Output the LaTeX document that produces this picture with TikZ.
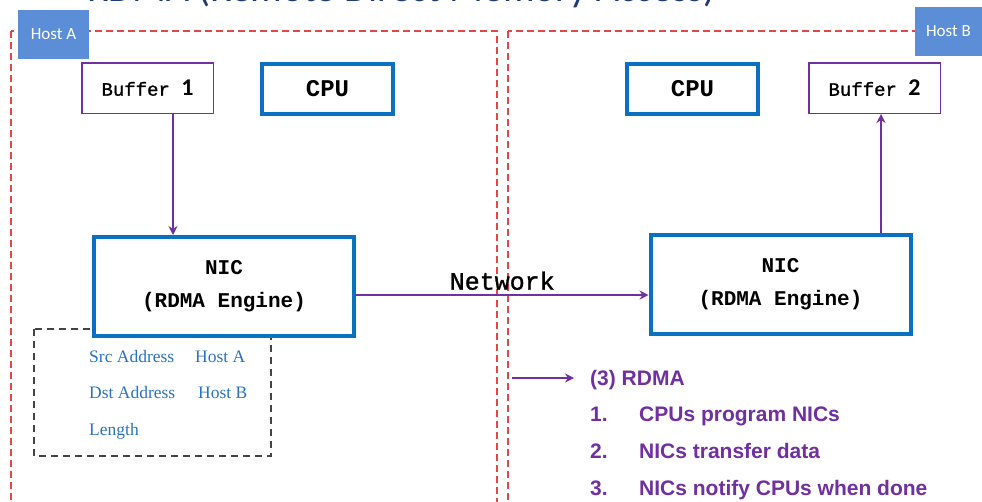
\documentclass[tikz,border=0pt]{standalone}
\usepackage{fontspec}
\setmainfont{Liberation Serif}
\newfontfamily\monof{Liberation Mono}
\newfontfamily\monofb{Liberation Mono}[FakeBold=1.2]
\newfontfamily\calib{Carlito}
\newfontfamily\arialf{Liberation Sans}
\usetikzlibrary{arrows.meta}
\definecolor{hostred}{HTML}{E04848}
\definecolor{labelblue}{HTML}{5B8ED6}
\definecolor{boxblue}{HTML}{0A70C0}
\definecolor{vio}{HTML}{7030A0}
\definecolor{fieldblue}{HTML}{2A72C4}
\definecolor{navy}{HTML}{1F3B73}
\definecolor{dashgray}{HTML}{444444}
\tikzset{
  hostframe/.style={draw=hostred, line width=1.3pt, dash pattern=on 7pt off 4pt},
  hostlabel/.style={fill=labelblue, text=white, font=\calib\fontsize{17}{19}\selectfont,
    minimum width=#1, minimum height=49pt, inner sep=0pt},
  bufbox/.style={draw=vio, line width=1.5pt, fill=white, inner sep=0pt,
    minimum width=131.5pt, minimum height=50.5pt, font=\monofb\fontsize{19}{22}\selectfont},
  cpubox/.style={draw=boxblue, line width=4pt, fill=white, inner sep=0pt,
    minimum width=131pt, minimum height=50pt, font=\monof\bfseries\fontsize{24}{28}\selectfont},
  nicbox/.style={draw=boxblue, line width=4pt, fill=white, inner sep=0pt,
    minimum width=260pt, minimum height=99pt, align=center,
    font=\monof\bfseries\fontsize{21}{33}\selectfont},
  flow/.style={draw=vio, line width=1.5pt, -{Stealth[length=9pt,width=9pt,inset=3pt]}},
  field/.style={text=fieldblue, font=\fontsize{17.5}{20}\selectfont, anchor=base west, inner sep=0pt},
  listtext/.style={text=vio, font=\arialf\bfseries\fontsize{21}{24}\selectfont, anchor=base west, inner sep=0pt}
}
\begin{document}
\begin{tikzpicture}[x=1pt,y=-1pt]
\clip (0,0) rectangle (982,501);
\fill[white] (0,0) rectangle (982,501);

% heading, running off the top edge
\node[text=navy, font=\calib\fontsize{39.5}{42}\selectfont, anchor=base, inner sep=0pt]
  (title) at (401,1.5) {RDMA (Remote Direct Memory Access)};

% host frames
\draw[hostframe] (11,31) rectangle (497,520);
\draw[hostframe] (508,31) rectangle (1000,520);
\node[hostlabel=71pt] (hostA) at (53.5,34) {Host A};
\node[hostlabel=67pt] (hostB) at (948.5,31.5) {Host B};

% work request descriptor behind the NIC
\draw[draw=dashgray, line width=1.5pt, dash pattern=on 7pt off 5pt] (34,329) rectangle (271,456);
\node[field] (src) at (89,362) {Src Address};
\node[field] (srcv) at (195,362) {Host A};
\node[field] (dst) at (89,398) {Dst Address};
\node[field] (dstv) at (198,398) {Host B};
\node[field] (len) at (89,435) {Length};

% host A
\node[bufbox] (bufA) at (147.5,88) {Buffer {\calib\bfseries\fontsize{24}{26}\selectfont 1}};
\node[cpubox] (cpuA) at (327.5,89) {CPU};
\node[nicbox] (nicA) at (224,286.5) {NIC\\(RDMA Engine)};

% host B
\node[cpubox] (cpuB) at (692.5,88.5) {CPU};
\node[bufbox] (bufB) at (874.5,88) {Buffer {\calib\bfseries\fontsize{24}{26}\selectfont 2}};
\node[nicbox] (nicB) at (780.5,284) {NIC\\(RDMA Engine)};

% data path
\draw[flow] ([xshift=25.5pt]bufA.south) -- ([xshift=25.5pt]bufA.south |- nicA.north);
\draw[flow] ([yshift=-8.5pt]nicA.east) -- ([yshift=-8.5pt]nicA.east -| nicB.west)
  node[midway, above=1pt, text=black, font=\monofb\fontsize{25}{27}\selectfont] (net) {Network};
\draw[flow] ([xshift=100.5pt]nicB.north) -- ([xshift=100.5pt]nicB.north |- bufB.south);

% legend
\coordinate (legstart) at (512,378);
\node[listtext] (rdma) at (590,385) {(3) RDMA};
\draw[flow] (legstart) -- (legstart -| 574,0);
\node[listtext] (n1) at (590,421) {1.};
\node[listtext] (t1) at (639,421) {CPUs program NICs};
\node[listtext] (n2) at (590,458) {2.};
\node[listtext] (t2) at (639,458) {NICs transfer data};
\node[listtext] (n3) at (590,495) {3.};
\node[listtext] (t3) at (639,495) {NICs notify CPUs when done};
\end{tikzpicture}
\end{document}
